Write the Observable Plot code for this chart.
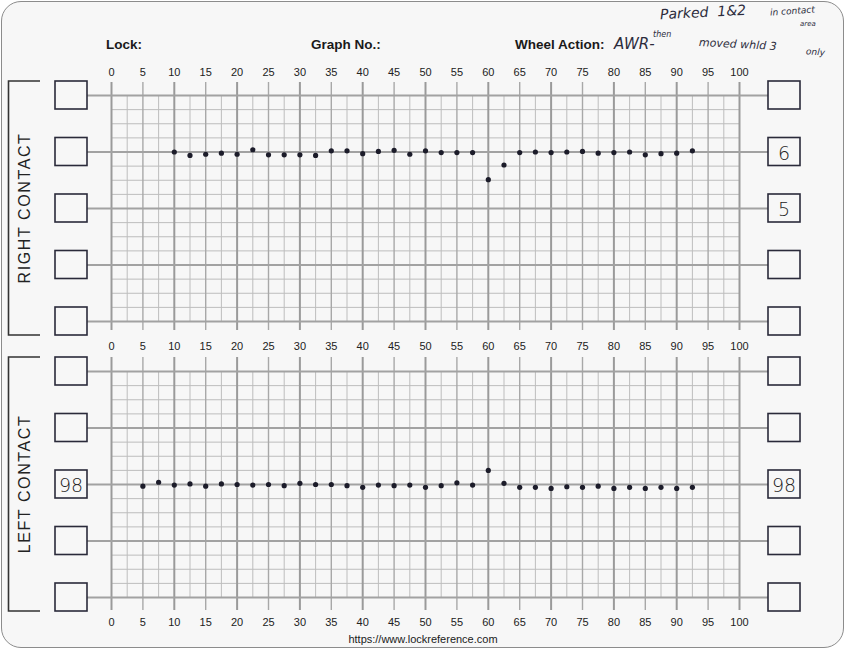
<!DOCTYPE html>
<html><head><meta charset="utf-8">
<script src="https://cdn.jsdelivr.net/npm/d3@7"></script>
<script src="https://cdn.jsdelivr.net/npm/@observablehq/plot@0.6"></script>
<style>
body{margin:0;background:#fff;}
#wrap{position:relative;width:846px;height:650px;overflow:hidden;font-family:"Liberation Sans",Arial,sans-serif;}
.frame{position:absolute;left:1px;top:1px;width:841px;height:645px;border:1.5px solid #8c8c8c;border-radius:20px;background:#f7f7f7;}
.hdr{position:absolute;font-weight:bold;font-size:13.5px;color:#1a1a1a;white-space:nowrap;}
.hand{position:absolute;font-family:"DejaVu Sans",sans-serif;font-style:italic;font-weight:300;color:#2c2c3c;white-space:nowrap;}
.url{position:absolute;left:0;width:846px;top:633px;text-align:center;font-size:11px;color:#1a1a1a;}
.panel{position:absolute;left:0;}
</style></head>
<body>
<div id="wrap">
  <div class="frame"></div>
  <div class="hdr" style="left:106px;top:37px;">Lock:</div>
  <div class="hdr" style="left:311px;top:37px;">Graph No.:</div>
  <div class="hdr" style="left:515px;top:37px;">Wheel Action:</div>
  <div class="hand" style="left:614px;top:35px;font-size:15px;">AWR-</div>
  <div class="hand" style="left:653px;top:30px;font-size:8px;">then</div>
  <div class="hand" style="left:660px;top:4px;font-size:14px;transform:rotate(-3deg);">Parked&nbsp;&nbsp;1&amp;2</div>
  <div class="hand" style="left:770px;top:6px;font-size:9px;transform:rotate(-4deg);">in contact</div>
  <div class="hand" style="left:800px;top:20px;font-size:7px;">area</div>
  <div class="hand" style="left:699px;top:38px;font-size:11px;transform:rotate(3deg);">moved whld 3</div>
  <div class="hand" style="left:806px;top:47px;font-size:9px;transform:rotate(4deg);">only</div>
  <div class="url">https://www.lockreference.com</div>
</div>
<script>
// ---- data ----
const tickLabels = [0,5,10,15,20,25,30,35,40,45,50,55,60,65,70,75,80,85,90,95,100];
const rightRows = [7,6,5,4,3];
const leftRows = [100,99,98,97,96];
const rightBoxRows = [6,5];
const rightBoxText = ["6","5"];
const leftBoxRows = [98];
const leftBoxText = ["98"];
const rightPositions = [10,12.5,15,17.5,20,22.5,25,27.5,30,32.5,35,37.5,40,42.5,45,47.5,50,52.5,55,57.5,60,62.5,65,67.5,70,72.5,75,77.5,80,82.5,85,87.5,90,92.5];
const rightContact = [6.0,5.94,5.96,5.98,5.96,6.04,5.95,5.95,5.95,5.94,6.02,6.02,5.97,6.01,6.03,5.96,6.02,5.99,5.99,5.99,5.51,5.77,5.99,6.0,5.99,6.0,6.01,5.98,5.99,6.0,5.95,5.97,5.98,6.02];
const leftPositions = [5,7.5,10,12.5,15,17.5,20,22.5,25,27.5,30,32.5,35,37.5,40,42.5,45,47.5,50,52.5,55,57.5,60,62.5,65,67.5,70,72.5,75,77.5,80,82.5,85,87.5,90,92.5];
const leftContact = [97.97,98.04,97.99,98.01,97.97,98.01,98.0,97.99,98.0,97.98,98.02,98.0,98.0,97.98,97.95,97.99,97.98,97.99,97.95,97.98,98.03,97.99,98.25,98.02,97.95,97.95,97.93,97.96,97.95,97.97,97.93,97.95,97.93,97.95,97.93,97.95];

// ---- layout ----
const W = 846, ML = 111, MR = 107;
const KX = (W - ML - MR) / 100;   // px per x unit
const KY = 56.5;                  // px per y unit

function panel({rows, xs, ys, label, leftBox, leftText, rightBox, rightText, height, marginTop, marginBottom, topLabels, extTop, extBot}) {
  const hi = d3.max(rows), lo = d3.min(rows);
  const grid = d3.range(0, 100.01, 2.5);
  const minorX = grid.filter(v => v % 5 !== 0);
  const fives = grid.filter(v => v % 5 === 0 && v % 10 !== 0);
  const tens = grid.filter(v => v % 10 === 0);
  const minorY = d3.range(lo, hi + 0.001, 0.25).filter(v => Math.abs(v - Math.round(v)) > 1e-6);
  const pts = xs.map((x, i) => ({x, y: ys[i]}));
  const decor = (index, scales) => {
    const g = d3.create("svg:g");
    const yT = scales.y(hi), yB = scales.y(lo);
    g.append("path").attr("d", `M40,${yT - 14}H8.5V${yB + 14}H40`)
      .attr("fill", "none").attr("stroke", "#333").attr("stroke-width", 1.6);
    g.append("text").attr("transform", `translate(24,${(yT + yB) / 2}) rotate(-90)`)
      .attr("text-anchor", "middle").attr("dominant-baseline", "central")
      .attr("font-size", 16).attr("letter-spacing", 1.6).attr("fill", "#222")
      .attr("font-family", "Liberation Sans, Arial, sans-serif").text(label);
    for (const r of rows) {
      for (const bx of [55, 768]) {
        g.append("rect").attr("x", bx).attr("y", scales.y(r) - 14).attr("width", 32).attr("height", 28)
          .attr("fill", "none").attr("stroke", "#2a2a3a").attr("stroke-width", 1.6);
      }
    }
    const hand = (bx, r, t) => g.append("text").attr("x", bx + 16).attr("y", scales.y(r) + 1)
      .attr("text-anchor", "middle").attr("dominant-baseline", "central")
      .attr("font-size", 19).attr("font-family", "DejaVu Sans, sans-serif").attr("font-weight", 300)
      .attr("fill", "#222").text(t);
    leftBox.forEach((r, i) => hand(55, r, leftText[i]));
    rightBox.forEach((r, i) => hand(768, r, rightText[i]));
    return g.node();
  };
  const marks = [
    Plot.ruleY(minorY, {x1: 0, x2: 100, stroke: "#bdbdbd", strokeWidth: 1}),
    Plot.ruleX(minorX, {y1: lo, y2: hi, stroke: "#bdbdbd", strokeWidth: 1}),
    Plot.ruleX(fives, {y1: lo - extBot / KY, y2: hi + extTop / KY, stroke: "#a8a8a8", strokeWidth: 1.4}),
    Plot.ruleX(tens, {y1: lo - extBot / KY, y2: hi + extTop / KY, stroke: "#9a9a9a", strokeWidth: 2}),
    Plot.ruleY(rows, {x1: (87 - ML) / KX, x2: (768 - ML) / KX, stroke: "#a2a2a2", strokeWidth: 2}),
    decor,
    Plot.dot(pts, {x: "x", y: "y", r: 2.6, fill: "#1c1c2a"}),
    Plot.text(tickLabels, {x: d => d, y: lo, dy: 25, fontSize: 11, fill: "#222", fontFamily: "Liberation Sans Narrow, Liberation Sans, Arial, sans-serif"})
  ];
  if (topLabels) marks.push(Plot.text(tickLabels, {x: d => d, y: hi, dy: -23, fontSize: 11, fill: "#222", fontFamily: "Liberation Sans Narrow, Liberation Sans, Arial, sans-serif"}));
  return Plot.plot({
    width: W, height, marginLeft: ML, marginRight: MR, marginTop, marginBottom,
    x: {domain: [0, 100], axis: null},
    y: {domain: [lo, hi], axis: null},
    style: {background: "transparent", overflow: "visible"},
    marks
  });
}

const wrap = document.getElementById("wrap");
const p1 = panel({rows: rightRows, xs: rightPositions, ys: rightContact, label: "RIGHT CONTACT",
  leftBox: [], leftText: [], rightBox: rightBoxRows, rightText: rightBoxText,
  height: 355, marginTop: 95, marginBottom: 34, topLabels: true, extTop: 13, extBot: 9});
p1.classList.add("panel"); p1.style.top = "0px";
wrap.appendChild(p1);
const p2 = panel({rows: leftRows, xs: leftPositions, ys: leftContact, label: "LEFT CONTACT",
  leftBox: leftBoxRows, leftText: leftBoxText, rightBox: leftBoxRows, rightText: leftBoxText,
  height: 295, marginTop: 16, marginBottom: 53, topLabels: false, extTop: 14, extBot: 13});
p2.classList.add("panel"); p2.style.top = "355px";
wrap.appendChild(p2);
</script>
</body></html>
